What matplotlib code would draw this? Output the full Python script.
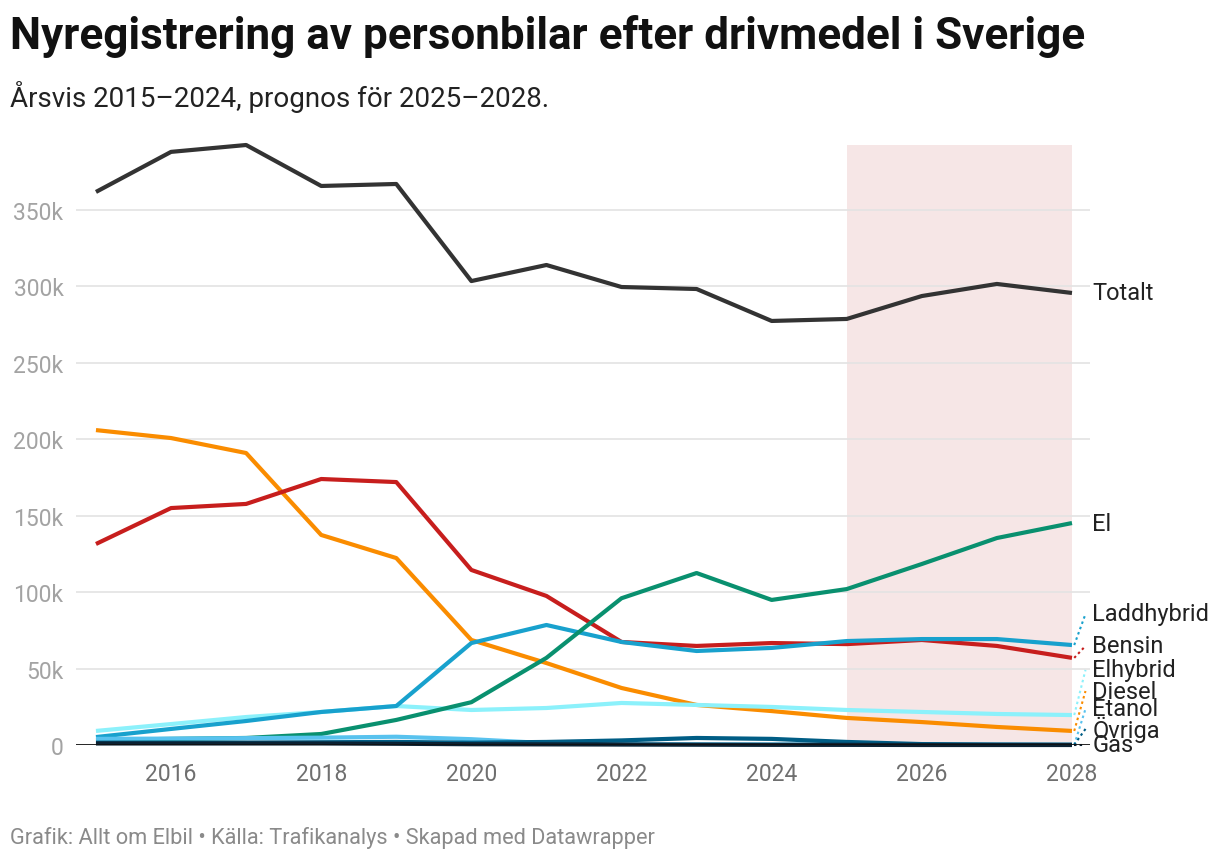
import numpy as np
import matplotlib.pyplot as plt
from matplotlib.ticker import FuncFormatter

plt.rcParams['font.family'] = ['Roboto', 'DejaVu Sans']

# år och serier (tusental bilar)
years = np.arange(2015, 2029)
totalt = [361.8, 388, 392.5, 365.7, 367, 303.5, 314, 299.6, 298.3, 277.4, 278.7, 293.7, 301.6, 295.7]
el = [3.3, 4.0, 4.6, 7.2, 16.4, 28, 57, 96, 112.5, 94.9, 102, 118.4, 135.4, 145.2]
laddhybrid = [5.2, 10.5, 15.7, 21.6, 25.5, 66.7, 78.5, 67.4, 61.5, 63.5, 68, 69.3, 69.3, 65.4]
bensin = [131.5, 155, 157.7, 174, 172, 114.5, 97.5, 67.4, 64.8, 66.7, 66, 68.7, 64.8, 57]
elhybrid = [9.2, 13.7, 18.3, 21.6, 25.5, 22.9, 24.2, 27.5, 26.2, 24.9, 22.9, 21.6, 20.3, 19.6]
diesel = [206, 200.8, 191, 137.4, 122.3, 68.7, 53.6, 37.3, 26.2, 22.2, 17.7, 15, 11.8, 9.2]
etanol = [4.0, 4.2, 4.5, 4.8, 5.4, 3.8, 1.2, 0.6, 0.5, 0.4, 0.3, 0.2, 0.2, 0.1]
ovriga = [1.5, 1.5, 1.6, 1.8, 2.0, 1.5, 2.0, 3.0, 4.6, 4.0, 2.0, 0.6, 0.3, 0.2]
gas = [1.0, 1.0, 1.0, 1.0, 0.8, 0.5, 0.4, 0.3, 0.2, 0.1, 0.1, 0.0, 0.0, 0.0]

series = [
    ('Totalt', totalt, '#333333'),
    ('Diesel', diesel, '#fa8c00'),
    ('Bensin', bensin, '#c71e1d'),
    ('Elhybrid', elhybrid, '#8cf1fb'),
    ('Laddhybrid', laddhybrid, '#18a1cd'),
    ('El', el, '#09906f'),
    ('Etanol', etanol, '#58c2ee'),
    ('Övriga', ovriga, '#005d85'),
    ('Gas', gas, '#0b2233'),
]
# etiketternas höjd (tusental) där de har flyttats isär
label_y = {'Laddhybrid': 85.7, 'Bensin': 64.8, 'Elhybrid': 49.1, 'Diesel': 35.3,
           'Etanol': 23.6, 'Övriga': 10.5, 'Gas': 0.0}

fig = plt.figure(figsize=(12.2, 8.62), dpi=100)
ax = fig.add_axes([76 / 1220, 116 / 862, 1014 / 1220, 600 / 862])
ax.set_xlim(2014.734, 2028.24)
ax.set_ylim(0, 392.5)

# prognosområde
ax.axvspan(2025, 2028, color='#f6e6e6', zorder=0, lw=0)

for v in range(50, 400, 50):
    ax.axhline(v, color='#e3e3e3', lw=1.2, zorder=1)
ax.axhline(0, color='#111111', lw=2, zorder=5)

for name, vals, col in series:
    ax.plot(years, vals, color=col, lw=3, zorder=3, solid_capstyle='butt', clip_on=False)
    end = vals[-1]
    ly = label_y.get(name, end)
    if name in label_y:
        ax.plot([2028.03, 2028.18], [end, ly], color=col, lw=1.5, ls=(0, (1.2, 1.5)),
                clip_on=False, zorder=3)
    ax.text(2028.27, ly, name, fontsize=17, color='#222222', va='center', ha='left',
            clip_on=False)

for s in ax.spines.values():
    s.set_visible(False)
ax.set_xticks(range(2016, 2029, 2))
ax.set_yticks(range(0, 400, 50))
ax.yaxis.set_major_formatter(FuncFormatter(lambda v, p: '0' if v == 0 else f'{int(v)}k'))
ax.tick_params(axis='both', length=0, labelsize=16.5)
ax.tick_params(axis='y', pad=9, labelcolor='#a3a3a3')
ax.tick_params(axis='x', pad=12, labelcolor='#6f6f6f')

fig.text(10 / 1220, 1 - 37 / 862, 'Nyregistrering av personbilar efter drivmedel i Sverige',
         fontsize=31.7, fontweight='bold', color='#111111', va='center', ha='left')
fig.text(10 / 1220, 1 - 97 / 862, 'Årsvis 2015–2024, prognos för 2025–2028.',
         fontsize=20, color='#222222', va='center', ha='left')
fig.text(10 / 1220, 1 - 838 / 862, 'Grafik: Allt om Elbil • Källa: Trafikanalys • Skapad med Datawrapper',
         fontsize=15.7, color='#8a8a8a', va='center', ha='left')

fig.savefig('out.png', dpi=100)
